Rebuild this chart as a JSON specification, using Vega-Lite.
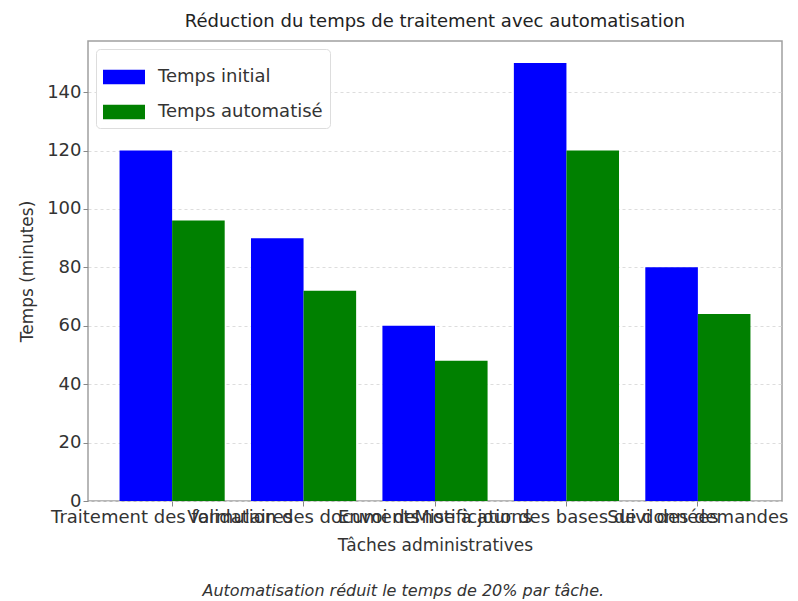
{
  "$schema": "https://vega.github.io/schema/vega-lite/v6.json",
  "padding": {"left": 17, "top": 12, "right": 11, "bottom": 4},
  "background": "white",
  "config": {
    "font": "DejaVu Sans",
    "view": {"stroke": "#a0a0a0", "strokeWidth": 1.5},
    "axis": {"labelColor": "#333333", "titleColor": "#333333", "labelFontSize": 18, "titleFontSize": 17, "titleFontWeight": "normal", "tickColor": "#888888", "tickSize": 5, "domain": false}
  },
  "title": {"text": "Automatisation réduit le temps de 20% par tâche.", "orient": "bottom", "anchor": "middle", "frame": "bounds", "fontStyle": "italic", "fontWeight": "normal", "fontSize": 16, "color": "#333333", "offset": 29},
  "vconcat": [
    {
      "title": {"text": "Réduction du temps de traitement avec automatisation", "fontSize": 18, "fontWeight": "normal", "color": "#222222", "frame": "group", "anchor": "middle", "offset": 10},
      "width": 694,
      "height": 460,
      "data": {"values": [
        {"tache": "Traitement des formulaires", "serie": "Temps initial", "minutes": 120},
        {"tache": "Traitement des formulaires", "serie": "Temps automatisé", "minutes": 96},
        {"tache": "Validation des documents", "serie": "Temps initial", "minutes": 90},
        {"tache": "Validation des documents", "serie": "Temps automatisé", "minutes": 72},
        {"tache": "Envoi de notifications", "serie": "Temps initial", "minutes": 60},
        {"tache": "Envoi de notifications", "serie": "Temps automatisé", "minutes": 48},
        {"tache": "Mise à jour des bases de données", "serie": "Temps initial", "minutes": 150},
        {"tache": "Mise à jour des bases de données", "serie": "Temps automatisé", "minutes": 120},
        {"tache": "Suivi des demandes", "serie": "Temps initial", "minutes": 80},
        {"tache": "Suivi des demandes", "serie": "Temps automatisé", "minutes": 64}
      ]},
      "mark": {"type": "bar"},
      "encoding": {
        "x": {"field": "tache", "type": "nominal", "sort": null,
          "scale": {"paddingInner": 0.2, "paddingOuter": 0.24},
          "axis": {"title": "Tâches administratives", "labelAngle": 0, "labelOverlap": false, "labelLimit": 0, "labelPadding": 2, "titlePadding": 11}},
        "xOffset": {"field": "serie", "type": "nominal", "sort": ["Temps initial", "Temps automatisé"], "scale": {"paddingInner": 0, "paddingOuter": 0}},
        "y": {"field": "minutes", "type": "quantitative",
          "scale": {"domain": [0, 157.5], "nice": false},
          "axis": {"title": "Temps (minutes)", "values": [0, 20, 40, 60, 80, 100, 120, 140], "grid": true, "gridColor": "#dddddd", "gridDash": [3, 3], "gridWidth": 1, "titlePadding": 10}},
        "color": {"field": "serie", "type": "nominal", "sort": ["Temps initial", "Temps automatisé"],
          "scale": {"domain": ["Temps initial", "Temps automatisé"], "range": ["#0000ff", "#008000"]},
          "legend": {"title": null, "orient": "top-left", "offset": 8, "fillColor": "white", "strokeColor": "#dddddd", "cornerRadius": 4, "padding": 7, "symbolType": "M-1,-0.35L1,-0.35L1,0.35L-1,0.35Z", "symbolSize": 1764, "symbolStrokeWidth": 0, "symbolOpacity": 1, "labelFontSize": 18, "labelLimit": 400, "labelColor": "#333333", "labelOffset": 13, "rowPadding": 5}}
      }
    }
  ]
}
